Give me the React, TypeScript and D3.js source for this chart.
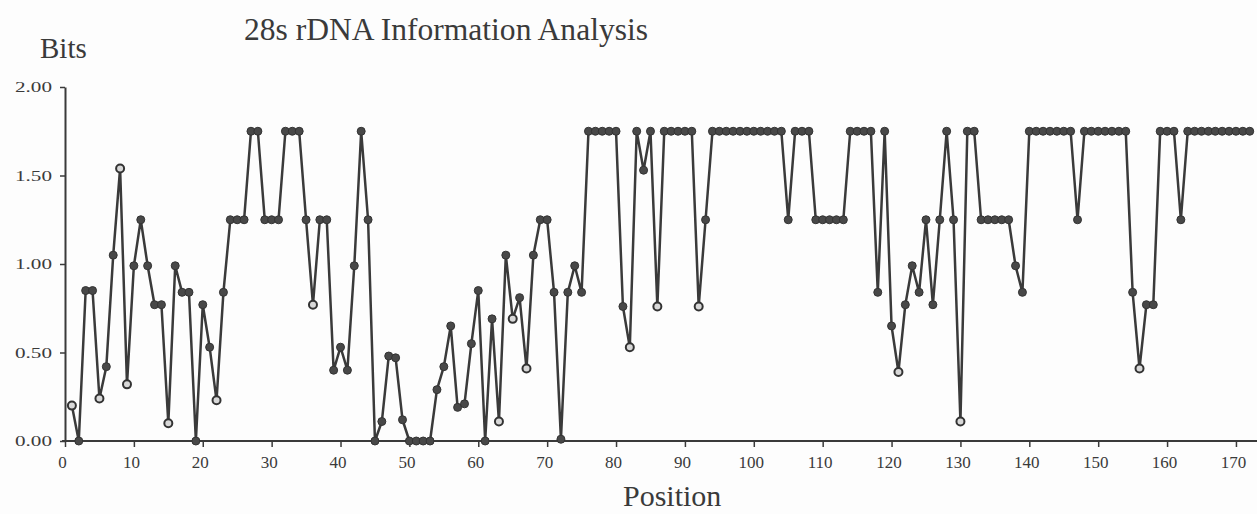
import React, { useRef, useEffect } from 'react';
import * as d3 from 'd3';

// 28s rDNA の情報量 (bits) — 位置 1..172
const bits = [
  0.20, 0.00, 0.85, 0.85, 0.24, 0.42, 1.05, 1.54, 0.32, 0.99,
  1.25, 0.99, 0.77, 0.77, 0.10, 0.99, 0.84, 0.84, 0.00, 0.77,
  0.53, 0.23, 0.84, 1.25, 1.25, 1.25, 1.75, 1.75, 1.25, 1.25,
  1.25, 1.75, 1.75, 1.75, 1.25, 0.77, 1.25, 1.25, 0.40, 0.53,
  0.40, 0.99, 1.75, 1.25, 0.00, 0.11, 0.48, 0.47, 0.12, 0.00,
  0.00, 0.00, 0.00, 0.29, 0.42, 0.65, 0.19, 0.21, 0.55, 0.85,
  0.00, 0.69, 0.11, 1.05, 0.69, 0.81, 0.41, 1.05, 1.25, 1.25,
  0.84, 0.01, 0.84, 0.99, 0.84, 1.75, 1.75, 1.75, 1.75, 1.75,
  0.76, 0.53, 1.75, 1.53, 1.75, 0.76, 1.75, 1.75, 1.75, 1.75,
  1.75, 0.76, 1.25, 1.75, 1.75, 1.75, 1.75, 1.75, 1.75, 1.75,
  1.75, 1.75, 1.75, 1.75, 1.25, 1.75, 1.75, 1.75, 1.25, 1.25,
  1.25, 1.25, 1.25, 1.75, 1.75, 1.75, 1.75, 0.84, 1.75, 0.65,
  0.39, 0.77, 0.99, 0.84, 1.25, 0.77, 1.25, 1.75, 1.25, 0.11,
  1.75, 1.75, 1.25, 1.25, 1.25, 1.25, 1.25, 0.99, 0.84, 1.75,
  1.75, 1.75, 1.75, 1.75, 1.75, 1.75, 1.25, 1.75, 1.75, 1.75,
  1.75, 1.75, 1.75, 1.75, 0.84, 0.41, 0.77, 0.77, 1.75, 1.75,
  1.75, 1.25, 1.75, 1.75, 1.75, 1.75, 1.75, 1.75, 1.75, 1.75,
  1.75, 1.75,
];

// 中抜きに見えるマーカーの位置
const openMarkers = [1, 5, 8, 9, 15, 22, 36, 63, 65, 67, 82, 86, 92, 121, 130, 156];

const xTicks = [0, 10, 20, 30, 40, 50, 60, 70, 80, 90, 100, 110, 120, 130, 140, 150, 160, 170];
const yTicks = [0, 0.5, 1.0, 1.5, 2.0];
const yTickLabels = ['0.00', '0.50', '1.00', '1.50', '2.00'];

const W = 1257;
const H = 514;
const FONT = '"Liberation Serif", "DejaVu Serif", serif';
const INK = '#3a3a3a';

export default function App() {
  const svgRef = useRef(null);

  useEffect(() => {
    const svg = d3.select(svgRef.current);
    svg.selectAll('*').remove();

    const x = d3.scaleLinear().domain([0, 174]).range([65, 1263.5]);
    const y = d3.scaleLinear().domain([0, 2]).range([441, 87]);

    svg.append('rect').attr('width', W).attr('height', H).attr('fill', '#fdfdfd');

    // タイトル・軸ラベル
    svg.append('text').attr('x', 244).attr('y', 40)
      .attr('font-family', FONT).attr('font-size', 31).attr('fill', INK)
      .attr('textLength', 404).attr('lengthAdjust', 'spacingAndGlyphs')
      .text('28s rDNA Information Analysis');
    svg.append('text').attr('x', 40).attr('y', 58)
      .attr('font-family', FONT).attr('font-size', 29).attr('fill', INK)
      .text('Bits');
    svg.append('text').attr('x', 623).attr('y', 506)
      .attr('font-family', FONT).attr('font-size', 30).attr('fill', INK)
      .text('Position');

    // Y軸
    const yAxis = d3.axisLeft(y).tickValues(yTicks).tickSize(5).tickSizeOuter(0)
      .tickFormat((d, i) => yTickLabels[i]);
    const gy = svg.append('g').attr('transform', `translate(${x(0)},0)`).call(yAxis);
    gy.select('.domain').attr('stroke', INK).attr('stroke-width', 2);
    gy.selectAll('.tick line').attr('stroke', INK).attr('stroke-width', 1.5);
    gy.selectAll('.tick text')
      .attr('x', -13)
      .attr('font-family', FONT).attr('font-size', 15).attr('fill', INK)
      .attr('textLength', 37).attr('lengthAdjust', 'spacingAndGlyphs');

    // X軸
    const xAxis = d3.axisBottom(x).tickValues(xTicks).tickSize(6).tickSizeOuter(0);
    const gx = svg.append('g').attr('transform', `translate(0,${y(0)})`).call(xAxis);
    gx.select('.domain').attr('d', `M${x(0) - 3},0H${W}`).attr('stroke', INK).attr('stroke-width', 2);
    gx.selectAll('.tick line').attr('stroke', INK).attr('stroke-width', 1.5);
    gx.selectAll('.tick text')
      .attr('y', 15)
      .attr('dx', -3)
      .attr('font-family', FONT).attr('font-size', 17).attr('fill', INK);

    // 折れ線
    const line = d3.line()
      .x((d, i) => x(i + 1))
      .y(d => y(d));
    svg.append('path').datum(bits)
      .attr('d', line)
      .attr('fill', 'none')
      .attr('stroke', INK)
      .attr('stroke-width', 2.5)
      .attr('stroke-linejoin', 'round');

    // マーカー
    const open = new Set(openMarkers);
    svg.append('g').selectAll('circle')
      .data(bits)
      .enter()
      .append('circle')
      .attr('cx', (d, i) => x(i + 1))
      .attr('cy', d => y(d))
      .attr('r', 4)
      .attr('fill', (d, i) => (open.has(i + 1) ? '#d8d8d8' : '#484848'))
      .attr('stroke', '#333')
      .attr('stroke-width', (d, i) => (open.has(i + 1) ? 2 : 1));
  }, []);

  return (
    <svg
      ref={svgRef}
      width={W}
      height={H}
      style={{ position: 'absolute', left: 0, top: 0, display: 'block' }}
    />
  );
}
